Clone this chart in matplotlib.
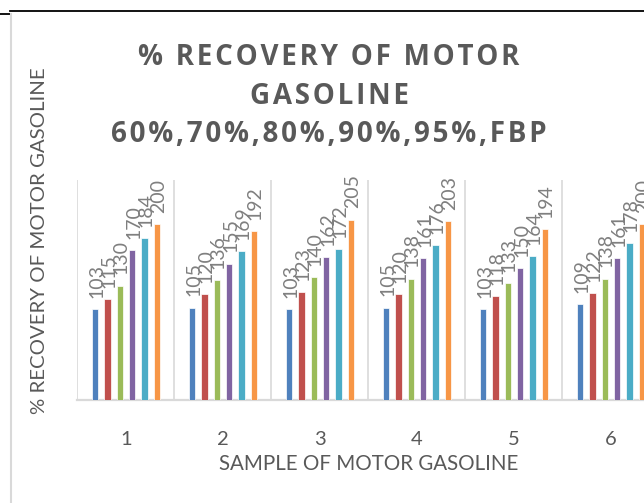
import numpy as np
import matplotlib
matplotlib.use("Agg")
import matplotlib.pyplot as plt
from matplotlib.lines import Line2D

# --- dane: temperatury odzysku dla kolejnych próbek ---
samples = ["1", "2", "3", "4", "5", "6"]
series_names = ["60%", "70%", "80%", "90%", "95%", "FBP"]
rec_60 = [103, 105, 103, 105, 103, 109]
rec_70 = [115, 120, 123, 120, 118, 122]
rec_80 = [130, 136, 140, 138, 133, 138]
rec_90 = [170, 155, 162, 161, 150, 161]
rec_95 = [184, 169, 172, 176, 164, 178]
rec_fbp = [200, 192, 205, 203, 194, 200]

COLORS = ["#4F81BD", "#C0504D", "#9BBB59", "#8064A2", "#4BACC6", "#F79646"]
DARK = "#595959"
LABEL = "#7F7F7F"
GRID = "#D9D9D9"

plt.rcParams["font.family"] = ["Lato", "DejaVu Sans"]


def spaced(s, gap="\u200a"):
    # rozstrzelony tytuł: wąska spacja między znakami
    return gap.join(s)


fig = plt.figure(figsize=(6.44, 5.03), dpi=100)
ax = fig.add_axes([0.1203, 0.2048, 0.9037, 0.4374])

x = np.arange(len(samples))
width = 0.067
step = 0.127
all_series = [rec_60, rec_70, rec_80, rec_90, rec_95, rec_fbp]
for i, (vals, col) in enumerate(zip(all_series, COLORS)):
    pos = x + (i - 2.5) * step
    bars = ax.bar(pos, vals, width=width, color=col, edgecolor="white",
                  linewidth=0.5, label=series_names[i], zorder=3)
    for b, v in zip(bars, vals):
        ax.annotate(f"{v}", (b.get_x() + b.get_width() / 2, v),
                    xytext=(1, 8), textcoords="offset points",
                    rotation=90, ha="center", va="bottom",
                    fontsize=14, color=LABEL, zorder=4)

ax.set_xlim(-0.5, len(samples) - 0.5)
ax.set_ylim(0, 250)

# linie podziału między kategoriami
for b in np.arange(-0.5, len(samples), 1.0):
    ax.axvline(b, color=GRID, lw=1.2, zorder=1)

for s in ("top", "right", "left"):
    ax.spines[s].set_visible(False)
ax.spines["bottom"].set_color(GRID)
ax.spines["bottom"].set_linewidth(1.6)
ax.set_yticks([])
ax.set_xticks(x)
ax.set_xticklabels(samples, fontsize=14.5, color=DARK)
ax.tick_params(axis="x", length=0, pad=22)
ax.set_xlabel("SAMPLE OF MOTOR GASOLINE", fontsize=14.8, color=DARK, labelpad=5)

fig.text(0.062, 0.521, "% RECOVERY OF MOTOR GASOLINE", rotation=90,
         ha="center", va="center", fontsize=14.7, color=DARK)

title = "\n".join(spaced(t) for t in
                  ["% RECOVERY OF MOTOR", "GASOLINE", "60%,70%,80%,90%,95%,FBP"])
fig.text(0.511, 0.809, title,
         ha="center", va="center", fontsize=20, fontweight="bold", color=DARK,
         family=["Open Sans", "DejaVu Sans"], linespacing=1.45)

# ramka obszaru wykresu
fig.add_artist(Line2D([10 / 644, 1], [1 - 11 / 503] * 2, color="black", lw=1.3))
fig.add_artist(Line2D([0, 10 / 644], [1 - 14 / 503] * 2, color="black", lw=1.3))
fig.add_artist(Line2D([11 / 644] * 2, [0, 1 - 14 / 503], color=GRID, lw=1.5))

fig.savefig("out.png", dpi=100)
